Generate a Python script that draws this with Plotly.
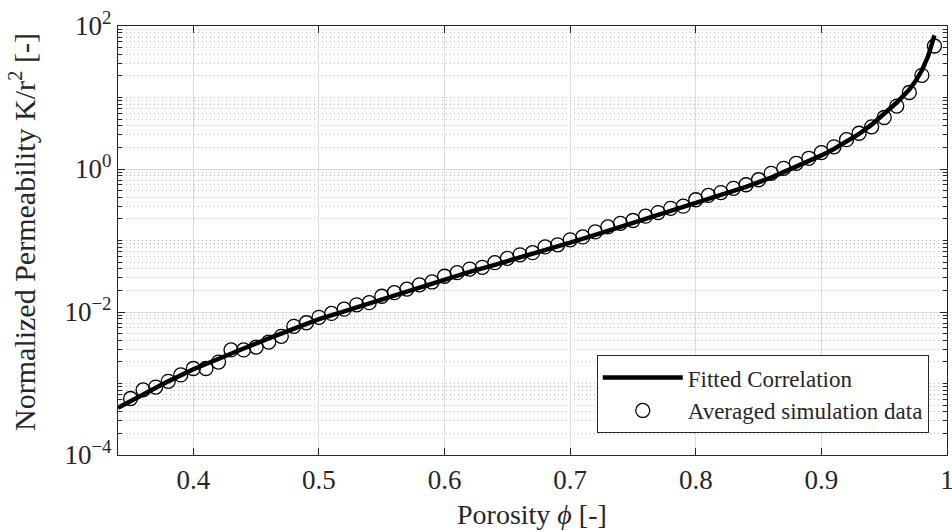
import numpy as np
import plotly.graph_objects as go

# Fitted correlation (porosity, log10 K/r^2)
curve_phi = [0.34, 0.36, 0.38, 0.40, 0.42, 0.44, 0.46, 0.48, 0.50, 0.52, 0.54, 0.56,
             0.58, 0.60, 0.62, 0.64, 0.66, 0.68, 0.70, 0.72, 0.74, 0.76, 0.78, 0.80,
             0.82, 0.84, 0.86, 0.88, 0.90, 0.91, 0.92, 0.93, 0.94, 0.95, 0.96, 0.97,
             0.975, 0.98, 0.985, 0.99]
curve_log10 = [-3.34, -3.15, -2.97, -2.80, -2.65, -2.51, -2.37, -2.23, -2.10, -1.99, -1.88, -1.76,
               -1.65, -1.54, -1.44, -1.34, -1.24, -1.13, -1.03, -0.92, -0.81, -0.70, -0.59, -0.48,
               -0.37, -0.25, -0.12, 0.03, 0.19, 0.28, 0.38, 0.49, 0.62, 0.77, 0.93, 1.11,
               1.23, 1.38, 1.58, 1.87]

# Averaged simulation data (porosity, log10 K/r^2)
data_phi = [0.35, 0.36, 0.37, 0.38, 0.39, 0.40, 0.41, 0.42, 0.43, 0.44, 0.45, 0.46, 0.47,
            0.48, 0.49, 0.50, 0.51, 0.52, 0.53, 0.54, 0.55, 0.56, 0.57, 0.58, 0.59,
            0.60, 0.61, 0.62, 0.63, 0.64, 0.65, 0.66, 0.67, 0.68, 0.69, 0.70, 0.71,
            0.72, 0.73, 0.74, 0.75, 0.76, 0.77, 0.78, 0.79, 0.80, 0.81, 0.82, 0.83,
            0.84, 0.85, 0.86, 0.87, 0.88, 0.89, 0.90, 0.91, 0.92, 0.93, 0.94, 0.95,
            0.96, 0.97, 0.98, 0.99]
data_log10 = [-3.21, -3.09, -3.05, -2.97, -2.88, -2.79, -2.79, -2.70, -2.53, -2.53, -2.49, -2.42, -2.34,
              -2.20, -2.15, -2.075, -2.02, -1.96, -1.90, -1.87, -1.78, -1.73, -1.68, -1.62, -1.58,
              -1.50, -1.45, -1.40, -1.375, -1.31, -1.25, -1.20, -1.17, -1.09, -1.06, -0.99, -0.95,
              -0.88, -0.81, -0.76, -0.72, -0.66, -0.61, -0.55, -0.52, -0.43, -0.37, -0.33, -0.27,
              -0.22, -0.15, -0.06, 0.01, 0.08, 0.15, 0.23, 0.31, 0.41, 0.50, 0.59, 0.72,
              0.88, 1.07, 1.31, 1.72]

x_ticks = [0.4, 0.5, 0.6, 0.7, 0.8, 0.9, 1.0]
x_ticktext = ["0.4", "0.5", "0.6", "0.7", "0.8", "0.9", "1"]
y_ticks = [1e-4, 1e-2, 1e0, 1e2]
y_ticktext = ["10<sup>−4</sup>", "10<sup>−2</sup>", "10<sup>0</sup>", "10<sup>2</sup>"]

curve_k = [10 ** v for v in curve_log10]
data_k = [10 ** v for v in data_log10]

minor_y = [m * 10.0 ** e for e in range(-4, 2) for m in range(2, 10)] + [1e-3, 1e-1, 1e1]

FONT = "Liberation Serif"
AX = "#262626"

fig = go.Figure()
fig.add_trace(go.Scatter(x=curve_phi, y=curve_k, mode="lines", name="Fitted Correlation",
                         line=dict(color="black", width=4.5)))
fig.add_trace(go.Scatter(x=data_phi, y=data_k, mode="markers", name="Averaged simulation data",
                         marker=dict(symbol="circle-open", size=14, color="black",
                                     line=dict(width=1.3, color="black"))))

fig.update_layout(
    width=952, height=531,
    margin=dict(l=118, r=5, t=26, b=76),
    paper_bgcolor="white", plot_bgcolor="white",
    font=dict(family=FONT, size=27, color=AX),
    legend=dict(x=0.978, y=0.051, xanchor="right", yanchor="bottom",
                bgcolor="white", bordercolor=AX, borderwidth=1,
                font=dict(size=23, family=FONT, color=AX),
                tracegroupgap=0, itemwidth=80),
    showlegend=True,
    annotations=[
        dict(text="Porosity <i>ϕ</i> [-]", xref="paper", yref="paper", x=0.499, y=-0.138,
             xanchor="center", yanchor="middle", showarrow=False,
             font=dict(size=28, family=FONT, color=AX)),
        dict(text="Normalized Permeability K/r<sup>2</sup> [-]", xref="paper", yref="paper",
             x=-0.1158, y=0.52, xanchor="center", yanchor="middle", textangle=-90,
             showarrow=False, font=dict(size=30, family=FONT, color=AX)),
    ],
)
fig.update_xaxes(
    range=[0.34, 1.0], tickvals=x_ticks, ticktext=x_ticktext,
    showgrid=True, gridcolor="#dcdcdc", gridwidth=1,
    showline=True, linecolor=AX, linewidth=1.2, mirror="allticks",
    ticks="inside", ticklen=7, tickcolor=AX, tickwidth=1,
    zeroline=False, automargin=False, ticklabeloverflow="allow",
    tickfont=dict(size=27, family=FONT),
)
fig.update_yaxes(
    type="log", range=[-4, 2], tickvals=y_ticks, ticktext=y_ticktext,
    showgrid=True, gridcolor="#dcdcdc", gridwidth=1,
    showline=True, linecolor=AX, linewidth=1.2, mirror="allticks",
    ticks="inside", ticklen=7, tickcolor=AX, tickwidth=1,
    zeroline=False, automargin=False, ticklabeloverflow="allow",
    minor=dict(tickvals=minor_y, ticks="inside", ticklen=4, tickcolor=AX,
               showgrid=True, gridcolor="#bcbcbc", griddash="1px,3px", gridwidth=1),
    tickfont=dict(size=27, family=FONT),
)

fig.write_html("out.html", config={"displayModeBar": False},
               post_script="document.body.style.margin='0';document.body.style.overflow='hidden';")
